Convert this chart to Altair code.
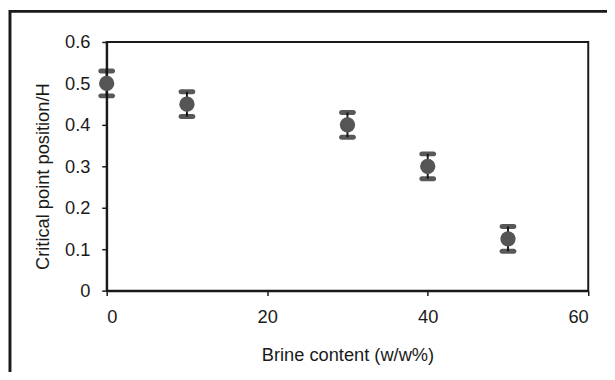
import altair as alt
import pandas as pd

brine = [0, 10, 30, 40, 50]
position = [0.5, 0.45, 0.40, 0.30, 0.125]
err = [0.03, 0.03, 0.03, 0.03, 0.03]

df = pd.DataFrame({"x": brine, "y": position, "e": err})
df["lo"] = df["y"] - df["e"]
df["hi"] = df["y"] + df["e"]

W, H = 488, 252
FONT = "Liberation Sans"

xs = alt.Scale(domain=[0, 60], nice=False)
ys = alt.Scale(domain=[0, 0.6], nice=False)

base = alt.Chart(df)

frame = base.mark_rect(fill=None, stroke="#1a1a1a", strokeWidth=3).encode(
    x=alt.value(-98), x2=alt.value(W + 40), y=alt.value(-31), y2=alt.value(H + 120)
).transform_filter("datum.x == 0")

stem = base.mark_rule(color="#1a1a1a", strokeWidth=2).encode(
    x=alt.X("x:Q", scale=xs), y=alt.Y("lo:Q", scale=ys), y2="hi:Q"
)
caps_lo = base.mark_tick(color="#111111", orient="horizontal", size=17, thickness=5, cornerRadius=2.5).encode(
    x=alt.X("x:Q", scale=xs), y=alt.Y("lo:Q", scale=ys)
)
caps_hi = base.mark_tick(color="#111111", orient="horizontal", size=17, thickness=5, cornerRadius=2.5).encode(
    x=alt.X("x:Q", scale=xs), y=alt.Y("hi:Q", scale=ys)
)
pts = base.mark_circle(color="#555555", opacity=1, size=240).encode(
    x=alt.X("x:Q", scale=xs,
            axis=alt.Axis(title="Brine content (w/w%)", values=[0, 20, 40, 60], format="d",
                          grid=False, tickSize=5, labelPadding=12, titlePadding=20)),
    y=alt.Y("y:Q", scale=ys,
            axis=alt.Axis(title="Critical point position/H", values=[0, 0.1, 0.2, 0.3, 0.4, 0.5, 0.6],
                          format="~g", grid=False, tickSize=5, labelPadding=12, titlePadding=12,
                          titleY=H / 2 + 10, titleAlign="center")),
)

chart = alt.layer(frame, stem, caps_lo, caps_hi, pts).properties(
    width=W, height=H,
    autosize=alt.AutoSizeParams(type="none"),
    padding={"left": 100, "top": 32, "right": 19, "bottom": 80},
).configure_view(stroke="#1a1a1a", strokeWidth=2).configure_axis(
    domainColor="#1a1a1a", domainWidth=2, tickColor="#1a1a1a", tickWidth=1.5,
    labelFont=FONT, titleFont=FONT, labelFontSize=18.5, titleFontSize=18.5,
    labelColor="#1a1a1a", titleColor="#1a1a1a", titleFontWeight="normal",
)

chart.save("out.html", embed_options={"renderer": "svg", "actions": False})
